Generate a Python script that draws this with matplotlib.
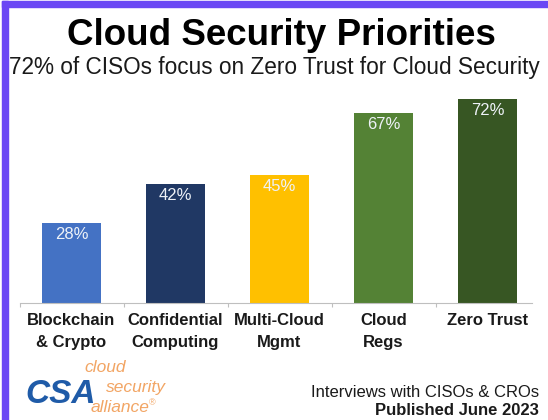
import matplotlib.pyplot as plt
from matplotlib.patches import Rectangle

W, H = 548, 420

categories = ['Blockchain\n& Crypto', 'Confidential\nComputing', 'Multi-Cloud\nMgmt',
              'Cloud\nRegs', 'Zero Trust']
values = [28, 42, 45, 67, 72]
colors = ['#4472c4', '#203864', '#ffc000', '#548235', '#375623']

title = 'Cloud Security Priorities'
subtitle = '72% of CISOs focus on Zero Trust for Cloud Security'
source = 'Interviews with CISOs & CROs'
published = 'Published June 2023'

plt.rcParams['font.family'] = ['Liberation Sans', 'DejaVu Sans']


def fx(px):
  return px / W


def fy(py):
  # py measured from the top of the picture
  return 1 - py / H


fig = plt.figure(figsize=(W / 100, H / 100), dpi=100)
fig.patch.set_facecolor('white')

# purple frame on top and left
fig.patches.append(Rectangle((fx(2), 0), fx(6), fy(1), transform=fig.transFigure,
                             color='#6a48f4', zorder=5))
fig.patches.append(Rectangle((fx(2), fy(7)), 1, fy(1) - fy(7), transform=fig.transFigure,
                             color='#6a48f4', zorder=5))

ax = fig.add_axes([fx(19.5), fy(302.5), fx(520), (302.5 - 76) / H])
x = range(len(values))
bars = ax.bar(x, values, width=0.57, color=colors, zorder=2)
ax.set_xlim(-0.5, 4.5)
ax.set_ylim(0, 80)

for b, v in zip(bars, values):
  ax.annotate(f'{v}%', (b.get_x() + b.get_width() / 2, v), xytext=(0, -3),
              textcoords='offset points', ha='center', va='top',
              color='#eef2f8', fontsize=12)

for s in ['top', 'right', 'left']:
  ax.spines[s].set_visible(False)
ax.spines['bottom'].set_color('#bfbfbf')
ax.spines['bottom'].set_bounds(-0.5, 4.43)
ax.set_yticks([])
ax.set_xticks([-0.5, 0.5, 1.5, 2.5, 3.5])
ax.set_xticklabels([])
ax.tick_params(axis='x', length=3, color='#bfbfbf')

for i, c in enumerate(categories):
  lines = c.split('\n')
  for j, line in enumerate(lines):
    fig.text(fx(71.5 + 104 * i), fy(325 + 22 * j), line, ha='center', va='baseline',
             fontsize=12, fontweight='bold', color='#1a1a1a')

fig.text(fx(281), fy(45), title, ha='center', va='baseline', fontsize=26.5,
         fontweight='bold', color='black')
fig.text(fx(274), fy(74), subtitle, ha='center', va='baseline', fontsize=16.3,
         color='#1a1a1a')

fig.text(fx(539), fy(397), source, ha='right', va='baseline', fontsize=12, color='#1a1a1a')
fig.text(fx(539), fy(415), published, ha='right', va='baseline', fontsize=12,
         fontweight='bold', color='#1a1a1a')

# CSA logo
fig.text(fx(25), fy(403), 'CSA', ha='left', va='baseline', fontsize=24,
         fontweight='heavy', fontstyle='italic', color='#1f5ba8')
fig.text(fx(84), fy(372), 'cloud', ha='left', va='baseline', fontsize=12.5,
         fontstyle='italic', color='#f2a564')
fig.text(fx(106), fy(392), 'security', ha='left', va='baseline', fontsize=12.5,
         fontstyle='italic', color='#f2a564')
fig.text(fx(91), fy(412), 'alliance', ha='left', va='baseline', fontsize=12.5,
         fontstyle='italic', color='#f2a564')
fig.text(fx(149), fy(405), '\u00ae', ha='left', va='baseline', fontsize=6.5,
         color='#f2a564')

fig.savefig('out.png', dpi=100)
